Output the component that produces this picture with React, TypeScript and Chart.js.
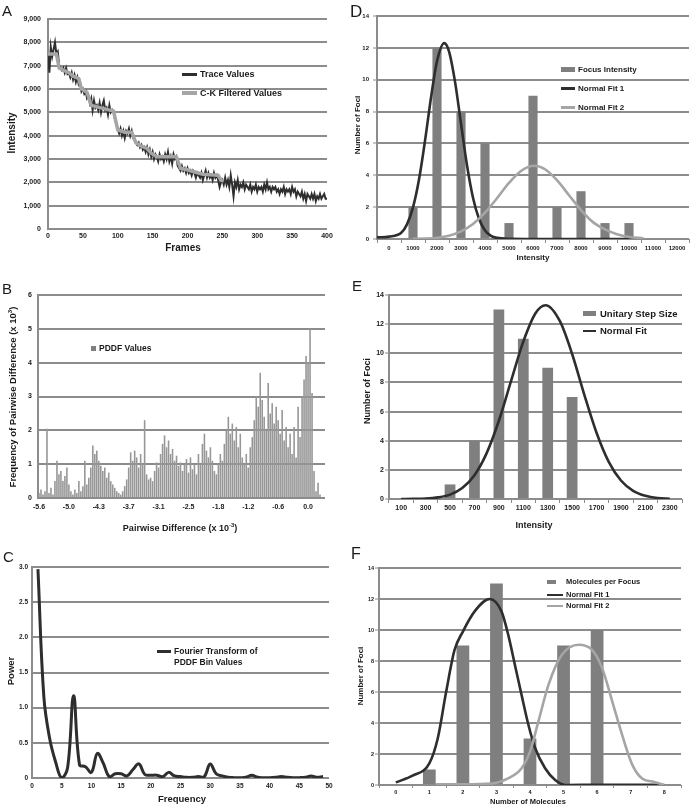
import React, { useEffect, useRef } from 'react';
import { Chart, registerables } from 'chart.js';
Chart.register(...registerables);

const FONT = '"Liberation Sans", Arial, Helvetica, sans-serif';
Chart.defaults.font.family = FONT;

const GRID = '#8c8c8c';
const TXT = '#1a1a1a';
const BAR = '#7f7f7f';
const DARK = '#2e2e2e';
const LIGHT = '#a5a5a5';

// ---------- Panel A: intensity trace ----------
const A_FRAME_STEP = 2;
const A_TRACE = [
  7500, 6700, 7800, 7400, 7700, 8000, 7500, 7600, 7000, 6900,
  6800, 6900, 6700, 6900, 6650, 6700, 6500, 6700, 6400, 6600,
  6300, 6500, 6200, 6300, 5900, 6000, 5800, 5900, 5600, 5700,
  5400, 5600, 5100, 5500, 5200, 5300, 5100, 5400, 5000, 5300,
  5500, 5100, 5200, 4900, 5300, 5000, 5100, 5000, 4700, 4500,
  4300, 4100, 4300, 4000, 4200, 3900, 4200, 4100, 4300, 4000,
  4200, 3900, 3800, 3700, 3600, 3700, 3500, 3600, 3400, 3500,
  3300, 3500, 3200, 3400, 3100, 3300, 3000, 3200, 3100, 2900,
  3200, 3000, 3100, 2900, 3200, 3000, 3300, 2900, 3100, 2800,
  3200, 3000, 3100, 2700, 2600, 2500, 2700, 2500, 2600, 2400,
  2600, 2400, 2500, 2300, 2500, 2400, 2200, 2400, 2300, 2200,
  2400, 2100, 2300, 2500, 2200, 2400, 2200, 2300, 2100, 2400,
  2200, 2300, 2100, 1800, 2000, 2100, 1900, 2200, 1900, 2100,
  1800, 2300, 1900, 1400, 2000, 1800, 2100, 1700, 1900, 1800,
  2000, 1700, 1900, 1800, 1700, 1900, 1600, 1800, 1700, 1900,
  1600, 1800, 1700, 1800, 1600, 1900, 1700, 2000, 1700, 1800,
  1600, 1800, 1700, 1800, 1600, 1700, 1500, 1700, 1600, 1800,
  1500, 1700, 1600, 1700, 1500, 1800, 1600, 1700, 1400, 1600,
  1500, 1400, 1600, 1300, 1500, 1200, 1500, 1400, 1300, 1500,
  1300, 1500, 1200, 1400, 1300, 1500, 1300, 1400, 1500, 1300,
  1300,
];
const A_FILTER_FRAMES = [0, 12, 16, 30, 36, 44, 48, 56, 62, 94, 100, 110, 120, 126, 134, 142, 148, 156, 184, 190, 198, 222, 244, 248, 252];
const A_FILTER_VALUES = [7500, 7500, 6900, 6700, 6550, 6450, 6000, 5850, 5300, 5050, 4250, 4150, 4150, 3700, 3550, 3450, 3250, 3100, 3100, 2600, 2550, 2350, 2300, 2100, 2050];

// ---------- Panel B: PDDF histogram ----------
const B_TICK_LABELS = ['-5.6', '-5.0', '-4.3', '-3.7', '-3.1', '-2.5', '-1.8', '-1.2', '-0.6', '0.0'];
const B_LABEL_EVERY = 15;
const B_VALUES = [
  0.15, 0.25, 0.1, 0.2, 2.05, 0.15, 0.3, 0.1,
  0.5, 1.1, 0.7, 0.8, 0.5, 0.65, 0.9, 0.4,
  0.2, 0.1, 0.25, 0.15, 0.5, 0.2, 0.35, 1.1,
  0.4, 0.6, 0.9, 1.55, 1.3, 1.4, 1.1, 0.95,
  0.8, 0.9, 0.6, 0.75, 0.5, 0.4, 0.3, 0.2,
  0.15, 0.1, 0.2, 0.35, 0.55, 0.9, 1.35, 1.1,
  1.4, 1.2, 0.9, 1.3, 1.0, 2.3, 0.7, 0.55,
  0.6, 0.5, 0.8, 1.05, 0.9, 1.3, 1.6, 1.85,
  1.5, 1.7, 1.3, 1.45, 1.1, 1.25, 0.95, 1.05,
  0.8, 1.0, 1.15, 0.75, 1.2, 0.85, 1.0, 0.7,
  1.3, 1.0, 1.6, 1.9, 1.4, 1.2, 1.5, 1.1,
  0.8, 0.7, 1.0, 1.3, 1.1, 1.6, 2.0, 2.4,
  1.9, 2.2, 1.7, 2.1, 1.5, 1.9, 1.2, 1.0,
  1.3, 0.9, 1.5, 1.8, 2.3, 3.0, 2.7, 3.7,
  2.9, 2.4, 2.0, 3.4, 2.5, 2.8, 2.2, 2.7,
  2.3, 1.9, 2.6, 1.7, 2.1, 1.5, 1.9, 1.3,
  2.1, 1.2, 2.7, 1.8, 3.0, 3.5, 4.2, 4.0,
  5.0, 3.1, 0.8, 0.2, 0.45, 0.1, 0, 0,
];

// ---------- Panel C: Fourier power ----------
const C_POWER = [
  2.97, 1.15, 0.55, 0.22, 0.0, 0.15, 1.17, 0.19, 0.16, 0.08,
  0.35, 0.21, 0.02, 0.06, 0.06, 0.03, 0.12, 0.2, 0.05, 0.04,
  0.04, 0.02, 0.08, 0.03, 0.02, 0.01, 0.01, 0.02, 0.02, 0.2,
  0.06, 0.03, 0.01, 0.005, 0.005, 0.01, 0.04, 0.01, 0.005, 0.005,
  0.01, 0.02, 0.01, 0.005, 0.005, 0.01, 0.03, 0.01, 0.02,
];

// ---------- Panel D: focus intensity ----------
const D_CATEGORIES = ['0', '1000', '2000', '3000', '4000', '5000', '6000', '7000', '8000', '9000', '10000', '11000', '12000'];
const D_COUNTS = [0, 2, 12, 8, 6, 1, 9, 2, 3, 1, 1, 0, 0];
const D_FIT1_X = [-500, 0, 500, 750, 1000, 1250, 1500, 1750, 2000, 2300, 2500, 2750, 3000, 3250, 3500, 3750, 4000, 4250, 4500, 5000, 6000, 8000, 10500];
const D_FIT1_Y = [0.1, 0.15, 0.37, 0.92, 1.98, 3.73, 6.16, 8.87, 11.16, 12.3, 11.78, 9.88, 7.24, 4.63, 2.59, 1.27, 0.54, 0.2, 0.07, 0.01, 0, 0, 0];
const D_FIT2_X = [1000, 1500, 2000, 2500, 3000, 3500, 4000, 4500, 5000, 5500, 6050, 6500, 7000, 7500, 8000, 8500, 9000, 9500, 10000, 10600];
const D_FIT2_Y = [0.01, 0.03, 0.08, 0.21, 0.48, 0.94, 1.65, 2.56, 3.52, 4.27, 4.6, 4.38, 3.69, 2.75, 1.82, 1.06, 0.6, 0.3, 0.13, 0.05];

// ---------- Panel E: unitary step size ----------
const E_CATEGORIES = ['100', '300', '500', '700', '900', '1100', '1300', '1500', '1700', '1900', '2100', '2300'];
const E_COUNTS = [0, 0, 1, 4, 13, 11, 9, 7, 0, 0, 0, 0];
const E_FIT_X = [100, 200, 300, 400, 500, 600, 700, 800, 900, 1000, 1100, 1200, 1283, 1400, 1500, 1600, 1700, 1800, 1900, 2000, 2100, 2200, 2300];
const E_FIT_Y = [0.0, 0.01, 0.03, 0.11, 0.3, 0.75, 1.63, 3.15, 5.37, 8.11, 10.8, 12.75, 13.3, 12.2, 9.95, 7.15, 4.55, 2.55, 1.27, 0.56, 0.22, 0.07, 0.02];

// ---------- Panel F: molecules per focus ----------
const F_CATEGORIES = ['0', '1', '2', '3', '4', '5', '6', '7', '8'];
const F_COUNTS = [0, 1, 9, 13, 3, 9, 10, 0, 0];
const F_FIT1_X = [0, 0.5, 1, 1.25, 1.5, 1.75, 2, 2.35, 2.8, 3.15, 3.35, 3.55, 3.75, 3.95, 4.15, 4.45, 4.75, 5.05, 6, 7, 8];
const F_FIT1_Y = [0.17, 0.6, 1.4, 3.0, 6.0, 8.7, 9.9, 11.2, 12.0, 11.2, 9.7, 7.75, 5.8, 3.9, 2.4, 1.08, 0.32, 0.0, 0.02, 0.02, 0];
const F_FIT2_X = [1.2, 2, 2.85, 3.35, 3.75, 4.0, 4.25, 4.55, 4.95, 5.45, 5.85, 6.15, 6.45, 6.75, 7.05, 7.35, 7.7, 8];
const F_FIT2_Y = [0.05, 0.05, 0.1, 0.43, 1.08, 2.15, 4.1, 6.46, 8.4, 9.05, 8.72, 7.54, 5.4, 3.2, 1.3, 0.4, 0.2, 0.0];

// ---------- helpers ----------
const pairs = (xs: number[], ys: number[]) => xs.map((x, i) => ({ x, y: ys[i] }));
const tickFont = (size: number) => ({ family: FONT, size, weight: 'bold' as const });

type Rect = { x: number; y: number; w: number; h: number };

function yScale(p: { min: number; max: number; step: number; width: number; font: number; tick: number; pad: number }) {
  return {
    type: 'linear',
    position: 'left',
    min: p.min,
    max: p.max,
    ticks: { stepSize: p.step, font: tickFont(p.font), color: TXT, padding: p.pad },
    grid: { color: GRID, lineWidth: 2, drawTicks: p.tick > 0, tickLength: p.tick, tickWidth: 1, tickColor: GRID },
    border: { display: true, color: GRID, width: 2 },
    afterFit: (s: any) => { s.width = p.width; },
  };
}

function xLinear(p: { min: number; max: number; step: number; height: number; font: number; pad: number }) {
  return {
    type: 'linear',
    position: 'bottom',
    min: p.min,
    max: p.max,
    ticks: { stepSize: p.step, font: tickFont(p.font), color: TXT, padding: p.pad, maxRotation: 0, minRotation: 0 },
    grid: { display: false, drawTicks: false },
    border: { display: false },
    afterFit: (s: any) => { s.height = p.height; },
  };
}

function xCategory(p: { height: number; font: number; pad: number; tick: number }) {
  return {
    type: 'category',
    position: 'bottom',
    offset: true,
    ticks: { font: tickFont(p.font), color: TXT, padding: p.pad, maxRotation: 0, minRotation: 0, autoSkip: false },
    grid: { display: p.tick > 0, offset: true, drawOnChartArea: false, drawTicks: p.tick > 0, tickLength: p.tick, color: GRID, lineWidth: 1 },
    border: { display: false },
    afterFit: (s: any) => { s.height = p.height; },
  };
}

const basePlugins = { legend: { display: false }, tooltip: { enabled: false }, title: { display: false } };

function frame(rect: Rect, area: { l: number; t: number; r: number; b: number }) {
  return {
    padding: { left: 0, top: area.t - rect.y, right: rect.x + rect.w - area.r, bottom: 0 },
    yWidth: area.l - rect.x,
    xHeight: rect.y + rect.h - area.b,
  };
}

// ---------- chart configs ----------
const RA: Rect = { x: 0, y: 0, w: 345, h: 262 };
const RB: Rect = { x: 0, y: 268, w: 345, h: 267 };
const RC: Rect = { x: 0, y: 540, w: 345, h: 270 };
const RD: Rect = { x: 348, y: 0, w: 348, h: 265 };
const RE: Rect = { x: 348, y: 268, w: 348, h: 267 };
const RF: Rect = { x: 348, y: 540, w: 348, h: 270 };

function configA() {
  const f = frame(RA, { l: 48, t: 19, r: 327, b: 229 });
  return {
    type: 'line',
    data: {
      datasets: [
        {
          label: 'C-K Filtered Values',
          data: pairs(A_FILTER_FRAMES, A_FILTER_VALUES),
          borderColor: LIGHT, borderWidth: 3.5, pointRadius: 0, tension: 0, order: 1,
        },
        {
          label: 'Trace Values',
          data: A_TRACE.map((v, i) => ({ x: i * A_FRAME_STEP, y: v })),
          borderColor: DARK, borderWidth: 2, pointRadius: 0, tension: 0, order: 2,
        },
      ],
    },
    options: {
      responsive: false, animation: false, events: [],
      layout: { padding: f.padding },
      plugins: basePlugins,
      scales: {
        x: xLinear({ min: 0, max: 400, step: 50, height: f.xHeight, font: 7, pad: 3 }),
        y: yScale({ min: 0, max: 9000, step: 1000, width: f.yWidth, font: 7, tick: 0, pad: 7 }),
      },
    },
  };
}

function configB() {
  const f = frame(RB, { l: 38, t: 295, r: 325, b: 498 });
  const labels = B_VALUES.map((_, i) => (i % B_LABEL_EVERY === 0 ? B_TICK_LABELS[i / B_LABEL_EVERY] ?? '' : ''));
  return {
    type: 'bar',
    data: {
      labels,
      datasets: [
        {
          label: 'PDDF Values', data: B_VALUES, backgroundColor: '#979797', borderWidth: 0,
          barPercentage: 0.8, categoryPercentage: 1,
        },
      ],
    },
    options: {
      responsive: false, animation: false, events: [],
      layout: { padding: f.padding },
      plugins: basePlugins,
      scales: {
        x: xCategory({ height: f.xHeight, font: 7, pad: 5, tick: 0 }),
        y: yScale({ min: 0, max: 6, step: 1, width: f.yWidth, font: 7, tick: 0, pad: 6 }),
      },
    },
  };
}

function configC() {
  const f = frame(RC, { l: 32, t: 567, r: 329, b: 778 });
  return {
    type: 'line',
    data: {
      datasets: [
        {
          label: 'Fourier Transform of PDDF Bin Values',
          data: C_POWER.map((v, i) => ({ x: i + 1, y: v })),
          borderColor: DARK, borderWidth: 3, pointRadius: 0, tension: 0.4,
        },
      ],
    },
    options: {
      responsive: false, animation: false, events: [],
      layout: { padding: f.padding },
      plugins: basePlugins,
      scales: {
        x: xLinear({ min: 0, max: 50, step: 5, height: f.xHeight, font: 6.5, pad: 4 }),
        y: yScale({ min: 0, max: 3, step: 0.5, width: f.yWidth, font: 6.5, tick: 0, pad: 4 }),
      },
    },
  };
}

function histConfig(
  rect: Rect,
  area: { l: number; t: number; r: number; b: number },
  cats: string[],
  counts: number[],
  barLabel: string,
  barPct: number,
  fits: { label: string; data: { x: number; y: number }[]; color: string; order: number }[],
  xl: { min: number; max: number },
  fonts: { tick: number; xpad: number; ypad: number; xtick: number },
) {
  const f = frame(rect, area);
  return {
    type: 'bar',
    data: {
      labels: cats,
      datasets: [
        ...fits.map((ft) => ({
          type: 'line', label: ft.label, data: ft.data, xAxisID: 'xl', yAxisID: 'y',
          borderColor: ft.color, borderWidth: 2.6, pointRadius: 0, cubicInterpolationMode: 'monotone', order: ft.order,
        })),
        {
          type: 'bar', label: barLabel, data: counts, xAxisID: 'x', yAxisID: 'y', grouped: false,
          backgroundColor: BAR, borderWidth: 0, barPercentage: barPct, categoryPercentage: 1, order: 5,
        },
      ],
    },
    options: {
      responsive: false, animation: false, events: [],
      layout: { padding: f.padding },
      plugins: basePlugins,
      scales: {
        x: xCategory({ height: f.xHeight, font: fonts.tick, pad: fonts.xpad, tick: fonts.xtick }),
        xl: { type: 'linear', display: false, min: xl.min, max: xl.max, offset: false },
        y: yScale({ min: 0, max: 14, step: 2, width: f.yWidth, font: fonts.tick, tick: 4, pad: fonts.ypad }),
      },
    },
  };
}

const configD = () =>
  histConfig(RD, { l: 377, t: 16, r: 689, b: 239 }, D_CATEGORIES, D_COUNTS, 'Focus Intensity', 0.38,
    [
      { label: 'Normal Fit 1', data: pairs(D_FIT1_X, D_FIT1_Y), color: DARK, order: 2 },
      { label: 'Normal Fit 2', data: pairs(D_FIT2_X, D_FIT2_Y), color: LIGHT, order: 1 },
    ],
    { min: -500, max: 12500 }, { tick: 6, xpad: 1.5, ypad: 4, xtick: 4 });

const configE = () =>
  histConfig(RE, { l: 389, t: 295, r: 682, b: 499 }, E_CATEGORIES, E_COUNTS, 'Unitary Step Size', 0.44,
    [{ label: 'Normal Fit', data: pairs(E_FIT_X, E_FIT_Y), color: DARK, order: 1 }],
    { min: 0, max: 2400 }, { tick: 7, xpad: 1, ypad: 1, xtick: 4 });

const configF = () =>
  histConfig(RF, { l: 379, t: 568, r: 681, b: 785 }, F_CATEGORIES, F_COUNTS, 'Molecules per Focus', 0.38,
    [
      { label: 'Normal Fit 1', data: pairs(F_FIT1_X, F_FIT1_Y), color: DARK, order: 2 },
      { label: 'Normal Fit 2', data: pairs(F_FIT2_X, F_FIT2_Y), color: LIGHT, order: 1 },
    ],
    { min: -0.5, max: 8.5 }, { tick: 5.5, xpad: 1, ypad: 1, xtick: 3 });

// ---------- components ----------
function ChartCanvas({ rect, build }: { rect: Rect; build: () => any }) {
  const ref = useRef<HTMLCanvasElement>(null);
  useEffect(() => {
    const chart = new Chart(ref.current as HTMLCanvasElement, build());
    return () => chart.destroy();
  }, []);
  return (
    <canvas
      ref={ref}
      width={rect.w}
      height={rect.h}
      style={{ position: 'absolute', left: rect.x, top: rect.y, width: rect.w, height: rect.h }}
    />
  );
}

function Txt({ x, y, size, bold = true, align = 'left', rot = false, children }: any) {
  const style: any = {
    position: 'absolute', left: x, top: y, fontFamily: FONT, fontSize: size,
    fontWeight: bold ? 'bold' : 'normal', color: TXT, whiteSpace: 'nowrap', lineHeight: 1,
  };
  if (rot) style.transform = 'translate(-50%,-50%) rotate(-90deg)';
  else if (align === 'center') style.transform = 'translate(-50%,-50%)';
  else style.transform = 'translateY(-50%)';
  return <div style={style}>{children}</div>;
}

function Swatch({ x1, x2, y, h, color }: any) {
  return <div style={{ position: 'absolute', left: x1, top: y - h / 2, width: x2 - x1, height: h, background: color }} />;
}

const Letter = ({ x, y, children, size = 15 }: any) => (
  <Txt x={x} y={y} size={size} bold={false}>{children}</Txt>
);

const sup = (t: string) => <sup style={{ fontSize: '0.65em', verticalAlign: 'super', lineHeight: 0 }}>{t}</sup>;

export default function App() {
  return (
    <div style={{ position: 'absolute', left: 0, top: 0, width: 696, height: 810, background: '#fff', overflow: 'hidden' }}>
      <ChartCanvas rect={RA} build={configA} />
      <ChartCanvas rect={RB} build={configB} />
      <ChartCanvas rect={RC} build={configC} />
      <ChartCanvas rect={RD} build={configD} />
      <ChartCanvas rect={RE} build={configE} />
      <ChartCanvas rect={RF} build={configF} />

      {/* Panel letters */}
      <Letter x={2} y={10}>A</Letter>
      <Letter x={2} y={288}>B</Letter>
      <Letter x={3} y={556}>C</Letter>
      <Letter x={350} y={11} size={17}>D</Letter>
      <Letter x={352} y={285}>E</Letter>
      <Letter x={351} y={554} size={16}>F</Letter>

      {/* Panel A text */}
      <Txt x={12} y={133} size={10} rot>Intensity</Txt>
      <Txt x={183} y={248} size={10} align="center">Frames</Txt>
      <Swatch x1={182} x2={197} y={74} h={3} color={DARK} />
      <Txt x={200} y={74} size={9}>Trace Values</Txt>
      <Swatch x1={182} x2={197} y={93} h={3.5} color={LIGHT} />
      <Txt x={200} y={93} size={9}>C-K Filtered Values</Txt>

      {/* Panel B text */}
      <Txt x={13} y={397} size={9.5} rot>Frequency of Pairwise Difference (x 10{sup('3')})</Txt>
      <Txt x={180} y={528} size={9} align="center">Pairwise Difference (x 10{sup('-3')})</Txt>
      <Swatch x1={91} x2={96} y={348} h={5} color={BAR} />
      <Txt x={99} y={348} size={8.5}>PDDF Values</Txt>

      {/* Panel C text */}
      <Txt x={11} y={671} size={9.5} rot>Power</Txt>
      <Txt x={182} y={799} size={9.5} align="center">Frequency</Txt>
      <Swatch x1={157} x2={171} y={651} h={3} color={DARK} />
      <Txt x={174} y={651} size={8.5}>Fourier Transform of</Txt>
      <Txt x={174} y={662} size={8.5}>PDDF Bin Values</Txt>

      {/* Panel D text */}
      <Txt x={358} y={125} size={8} rot>Number of Foci</Txt>
      <Txt x={533} y={258} size={8} align="center">Intensity</Txt>
      <Swatch x1={561} x2={575} y={69.5} h={4.5} color={BAR} />
      <Txt x={578} y={69.5} size={8}>Focus Intensity</Txt>
      <Swatch x1={561} x2={575} y={88.5} h={2.6} color={DARK} />
      <Txt x={578} y={88.5} size={8}>Normal Fit 1</Txt>
      <Swatch x1={561} x2={575} y={107.5} h={2.6} color={LIGHT} />
      <Txt x={578} y={107.5} size={8}>Normal Fit 2</Txt>

      {/* Panel E text */}
      <Txt x={367} y={391} size={9} rot>Number of Foci</Txt>
      <Txt x={534} y={525} size={9} align="center">Intensity</Txt>
      <Swatch x1={583} x2={596} y={313.5} h={5} color={BAR} />
      <Txt x={600} y={313.5} size={9.5}>Unitary Step Size</Txt>
      <Swatch x1={583} x2={596} y={331} h={2.6} color={DARK} />
      <Txt x={600} y={331} size={9.5}>Normal Fit</Txt>

      {/* Panel F text */}
      <Txt x={361} y={676} size={8} rot>Number of Foci</Txt>
      <Txt x={528} y={802} size={7.5} align="center">Number of Molecules</Txt>
      <Swatch x1={547} x2={556} y={582} h={4.5} color={BAR} />
      <Txt x={566} y={582} size={7.5}>Molecules per Focus</Txt>
      <Swatch x1={547} x2={563} y={595} h={2.6} color={DARK} />
      <Txt x={566} y={595} size={7.5}>Normal Fit 1</Txt>
      <Swatch x1={547} x2={563} y={606} h={2.6} color={LIGHT} />
      <Txt x={566} y={606} size={7.5}>Normal Fit 2</Txt>
    </div>
  );
}
